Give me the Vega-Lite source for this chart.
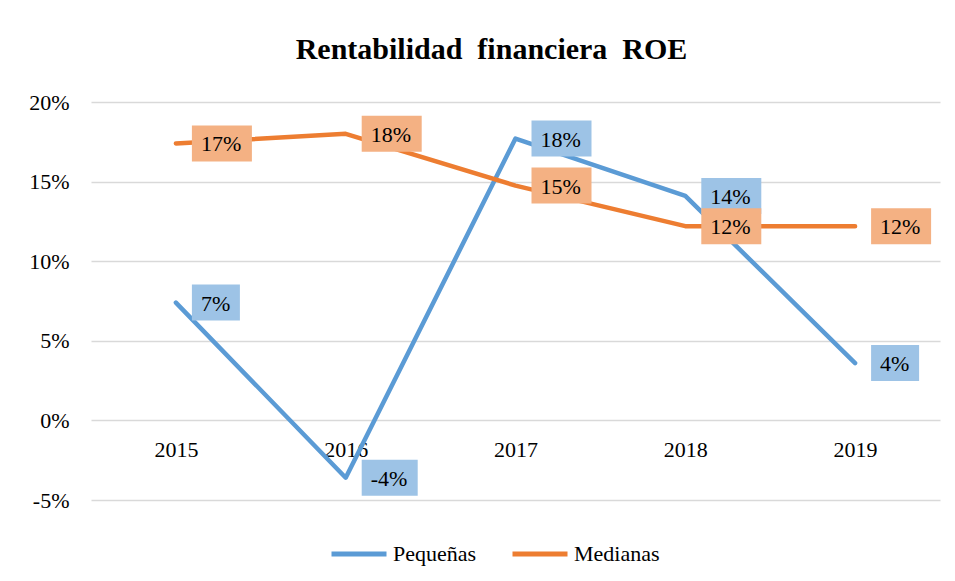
{
  "$schema": "https://vega.github.io/schema/vega-lite/v6.json",
  "autosize": "none",
  "width": 849,
  "height": 398,
  "padding": {"left": 91, "top": 102, "right": 15, "bottom": 81},
  "background": "white",
  "title": {
    "text": "Rentabilidad\u00a0 financiera\u00a0 ROE",
    "font": "Liberation Serif, Times New Roman, serif",
    "fontSize": 30,
    "fontWeight": "bold",
    "color": "#000000",
    "anchor": "middle",
    "dx": -24,
    "offset": 26
  },
  "config": {
    "view": {"stroke": null},
    "font": "Liberation Serif, Times New Roman, serif",
    "locale": {
      "number": {"decimal": ".", "thousands": ",", "grouping": [3], "currency": ["$", ""], "minus": "-"}
    }
  },
  "data": {
    "values": [
      {"year": "2015", "series": "Pequeñas", "value": 0.074},
      {"year": "2016", "series": "Pequeñas", "value": -0.036},
      {"year": "2017", "series": "Pequeñas", "value": 0.177},
      {"year": "2018", "series": "Pequeñas", "value": 0.141},
      {"year": "2019", "series": "Pequeñas", "value": 0.036},
      {"year": "2015", "series": "Medianas", "value": 0.174},
      {"year": "2016", "series": "Medianas", "value": 0.180},
      {"year": "2017", "series": "Medianas", "value": 0.1475},
      {"year": "2018", "series": "Medianas", "value": 0.122},
      {"year": "2019", "series": "Medianas", "value": 0.122}
    ]
  },
  "encoding": {
    "x": {
      "field": "year",
      "type": "ordinal",
      "scale": {"type": "point", "padding": 0.5},
      "axis": {
        "title": null,
        "orient": "bottom",
        "offset": -79.6,
        "domain": false,
        "ticks": false,
        "grid": false,
        "labelAngle": 0,
        "labelFont": "Liberation Serif, Times New Roman, serif",
        "labelFontSize": 22,
        "labelColor": "#000000",
        "labelPadding": 19
      }
    },
    "y": {
      "field": "value",
      "type": "quantitative",
      "scale": {"domain": [-0.05, 0.2], "nice": false, "zero": false},
      "axis": {
        "title": null,
        "values": [-0.05, 0, 0.05, 0.1, 0.15, 0.2],
        "format": ".0%",
        "domain": false,
        "ticks": false,
        "grid": true,
        "gridColor": "#D9D9D9",
        "gridWidth": 1.5,
        "labelFont": "Liberation Serif, Times New Roman, serif",
        "labelFontSize": 22,
        "labelColor": "#000000",
        "labelPadding": 22
      }
    }
  },
  "layer": [
    {
      "mark": {"type": "line", "strokeWidth": 4.5, "strokeCap": "round", "strokeJoin": "round"},
      "encoding": {
        "color": {
          "field": "series",
          "type": "nominal",
          "sort": ["Pequeñas", "Medianas"],
          "scale": {"domain": ["Pequeñas", "Medianas"], "range": ["#5B9BD5", "#ED7D31"]},
          "legend": {
            "title": null,
            "orient": "none",
            "direction": "horizontal",
            "legendX": 238,
            "legendY": 422,
            "padding": 0,
            "symbolType": "stroke",
            "symbolSize": 3025,
            "symbolStrokeWidth": 5,
            "labelFont": "Liberation Serif, Times New Roman, serif",
            "labelFontSize": 22,
            "labelColor": "#000000",
            "labelOffset": 4,
            "columnPadding": 25
          }
        },
        "order": {"field": "year", "type": "ordinal"}
      }
    },
    {
      "mark": {"type": "point", "filled": true, "size": 4, "opacity": 1, "strokeWidth": 0},
      "encoding": {
        "fill": {
          "field": "series",
          "type": "nominal",
          "scale": {"domain": ["Pequeñas", "Medianas"], "range": ["#9DC3E6", "#F4B183"]},
          "legend": null
        },
        "shape": {
          "condition": [
            {"test": "datum.value < 0", "value": "M16,-18H72V18H16Z"},
            {"test": "length(format(datum.value, '.0%')) < 3", "value": "M16,-18H64V18H16Z"}
          ],
          "value": "M16,-18H76V18H16Z"
        },
        "order": {"field": "series", "sort": "descending"}
      }
    },
    {
      "mark": {"type": "text", "align": "left", "baseline": "middle", "dx": 25, "dy": 1, "font": "Liberation Serif, Times New Roman, serif", "fontSize": 22, "color": "#000000"},
      "encoding": {
        "text": {"field": "value", "type": "quantitative", "format": ".0%"}
      }
    }
  ]
}
